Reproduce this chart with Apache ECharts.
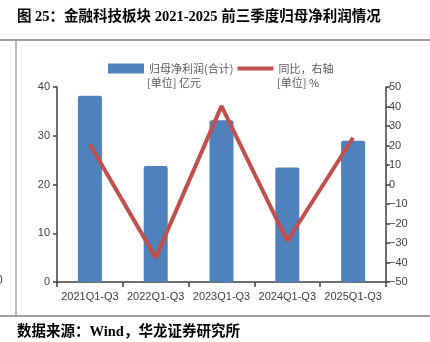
<!DOCTYPE html>
<html>
<head>
<meta charset="utf-8">
<script src="https://cdn.jsdelivr.net/npm/echarts@6/dist/echarts.min.js"></script>
<style>
html,body{margin:0;padding:0;background:#fff;}
#chart{width:430px;height:342px;}
</style>
</head>
<body>
<div id="chart"></div>
<script>
const categories = ['2021Q1-Q3', '2022Q1-Q3', '2023Q1-Q3', '2024Q1-Q3', '2025Q1-Q3'];
const profitValues = [38.2, 23.8, 33.2, 23.5, 29.0];
const yoyValues = [20.5, -37.5, 40.2, -29.0, 24.0];
const leftTicks = { min: 0, max: 40, interval: 10 };
const rightTicks = { min: -50, max: 50, interval: 10 };
const barName = '归母净利润(合计)';
const lineName = '同比，右轴';
const barUnit = '[单位] 亿元';
const lineUnit = '[单位] %';
const titleText = '图 25：金融科技板块 2021-2025 前三季度归母净利润情况';
const sourceText = '数据来源：Wind，华龙证券研究所';

const chart = echarts.init(document.getElementById('chart'), null, { renderer: 'canvas' });
const cjk = "'Noto Sans CJK SC', sans-serif";
const serif = "'Liberation Serif', 'Noto Sans CJK SC', serif";
const axisColor = '#404040';
const labelFont = "'Liberation Sans', Arial, sans-serif";

chart.setOption({
  animation: false,
  backgroundColor: '#ffffff',
  grid: { left: 57, right: 44, top: 87, bottom: 60, containLabel: false },
  legend: {
    left: 103, top: 58,
    itemWidth: 36, itemHeight: 10, itemGap: 4,
    symbolKeepAspect: true,
    textStyle: { fontFamily: cjk, fontSize: 11, color: '#595959' },
    data: [
      { name: barName, icon: 'rect' },
      { name: lineName, icon: 'path://M0,0 L36,0 L36,4 L0,4 Z', itemStyle: { color: '#C0504D' } }
    ]
  },
  xAxis: {
    type: 'category',
    data: categories,
    boundaryGap: true,
    axisLine: { lineStyle: { color: axisColor, width: 1.5 } },
    axisTick: { show: true, length: 5, alignWithLabel: false, lineStyle: { color: axisColor, width: 1.5 } },
    axisLabel: { interval: 0, fontFamily: labelFont, fontSize: 11, color: '#404040', margin: 9 }
  },
  yAxis: [
    {
      type: 'value', position: 'left',
      min: leftTicks.min, max: leftTicks.max, interval: leftTicks.interval,
      splitLine: { show: false },
      axisLine: { show: true, lineStyle: { color: axisColor, width: 1.5 } },
      axisTick: { show: true, length: 4, lineStyle: { color: axisColor, width: 1.5 } },
      axisLabel: { fontFamily: labelFont, fontSize: 11, color: '#404040', margin: 7 }
    },
    {
      type: 'value', position: 'right',
      min: rightTicks.min, max: rightTicks.max, interval: rightTicks.interval,
      splitLine: { show: false },
      axisLine: { show: true, lineStyle: { color: axisColor, width: 1.5 } },
      axisTick: { show: true, length: 4, lineStyle: { color: axisColor, width: 1.5 } },
      axisLabel: {
        fontFamily: labelFont, fontSize: 11, color: '#404040', margin: 3,
        formatter: v => String(v).replace('-', '\u2212')
      }
    }
  ],
  series: [
    {
      name: barName, type: 'bar', yAxisIndex: 0,
      data: profitValues, barWidth: 24,
      itemStyle: { color: '#4F81BD', borderRadius: [2, 2, 0, 0] }
    },
    {
      name: lineName, type: 'line', yAxisIndex: 1,
      data: yoyValues, symbol: 'none',
      lineStyle: { color: '#C0504D', width: 4 },
      itemStyle: { color: '#C0504D' }
    }
  ],
  graphic: [
    { type: 'text', left: 17, top: 10, style: { text: titleText, font: 'bold 14.5px ' + serif, fill: '#000' } },
    { type: 'line', shape: { x1: 0, y1: 40, x2: 430, y2: 40 }, style: { stroke: '#7f7f7f', lineWidth: 1.5 } },
    { type: 'line', shape: { x1: 16, y1: 40, x2: 16, y2: 316 }, style: { stroke: '#a6a6a6', lineWidth: 1.5 } },
    { type: 'line', shape: { x1: 0, y1: 316, x2: 430, y2: 316 }, style: { stroke: '#7f7f7f', lineWidth: 1.5 } },
    { type: 'text', left: -4, top: 275, style: { text: '0', font: '12px ' + labelFont, fill: '#404040' } },
    { type: 'text', left: 147, top: 77, style: { text: barUnit, font: '11px ' + cjk, fill: '#595959' } },
    { type: 'text', left: 277, top: 77, style: { text: lineUnit, font: '11px ' + cjk, fill: '#595959' } },
    { type: 'text', left: 17, top: 325, style: { text: sourceText, font: 'bold 14.5px ' + serif, fill: '#000' } }
  ]
});
</script>
</body>
</html>
